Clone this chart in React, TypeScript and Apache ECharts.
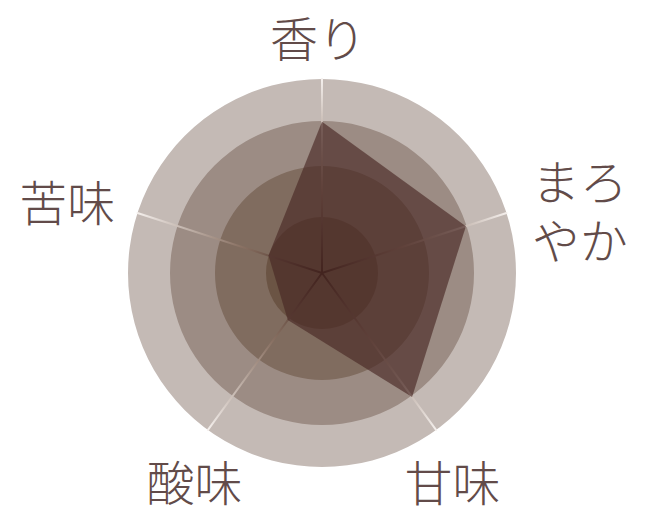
import { useEffect, useRef } from 'react';
import * as echarts from 'echarts';

// indicators in ECharts' counter-clockwise order, starting at the top
const tasteNames = ['香り', '苦味', '酸味', '甘味', 'まろやか'];
const tasteLabels = ['香り', '苦味', '酸味', '甘味', 'まろ\nやか'];
const tasteScores = [78, 29, 30, 79, 78];
const tasteMax = 100;

const FONT = '"Noto Sans CJK JP", "Noto Sans", sans-serif';
const TEXT = '#624b49';
const CENTER: [number, number] = [322, 273];
const RADIUS = 194;

// background rings, outermost first
const RING_RADII = [194, 152, 107, 56];
const RING_COLORS = ['#c4bab5', '#9c8c84', '#806c5f', '#6b5444'];

// label nudges [top, right, bottom, left], same order as tasteNames
const LABEL_PAD = [
  [0, 8, 54, 0],
  [0, 110, 16, 0],
  [74, 8, 0, 0],
  [74, 0, 0, 14],
  [0, 0, 0, 116],
];

export default function App() {
  const ref = useRef<HTMLDivElement>(null);

  useEffect(() => {
    if (!ref.current) return;
    const chart = echarts.init(ref.current, undefined, { renderer: 'svg' });
    const indicator = tasteNames.map((name) => ({ name, max: tasteMax, min: 0 }));

    const rings = RING_RADII.map((r, i) => ({
      center: CENTER,
      radius: r,
      shape: 'circle',
      splitNumber: 1,
      z: 1 + i,
      indicator,
      axisName: { show: false },
      axisLine: { show: false },
      axisTick: { show: false },
      splitLine: { show: false },
      splitArea: { show: true, areaStyle: { color: [RING_COLORS[i]] } },
    }));

    const rich: Record<string, any> = {};
    LABEL_PAD.forEach((p, i) => {
      rich['k' + i] = { fontSize: 48, fontFamily: FONT, fontWeight: 300, color: TEXT, lineHeight: 59, padding: p };
    });

    const axisGrad = new echarts.graphic.RadialGradient(CENTER[0], CENTER[1], RADIUS, [
      { offset: 0, color: '#3a1f17' },
      { offset: 0.45, color: '#8c7466' },
      { offset: 1, color: '#f4efec' },
    ], true);

    chart.setOption({
      animation: false,
      radar: [
        ...rings,
        {
          center: CENTER,
          radius: RADIUS,
          shape: 'circle',
          splitNumber: 1,
          z: 6,
          nameGap: 16,
          indicator,
          axisName: {
            align: 'center',
            verticalAlign: 'middle',
            color: TEXT,
            fontSize: 48,
            fontFamily: FONT,
            fontWeight: 300,
            formatter: (name: string) => {
              const i = tasteNames.indexOf(name);
              return `{k${i}|${tasteLabels[i]}}`;
            },
            rich,
          },
          axisLine: { show: true, lineStyle: { color: axisGrad, width: 2 } },
          axisTick: { show: false },
          splitLine: { show: false },
          splitArea: { show: false },
        },
      ],
      series: [
        {
          type: 'radar',
          radarIndex: RING_RADII.length,
          z: 10,
          symbol: 'none',
          lineStyle: { width: 0 },
          areaStyle: { color: 'rgba(72, 39, 36, 0.64)', opacity: 1 },
          data: [{ value: tasteScores, name: '味' }],
        },
      ],
    });
    return () => chart.dispose();
  }, []);

  return <div ref={ref} style={{ position: 'absolute', left: 0, top: 0, width: 650, height: 519 }} />;
}
